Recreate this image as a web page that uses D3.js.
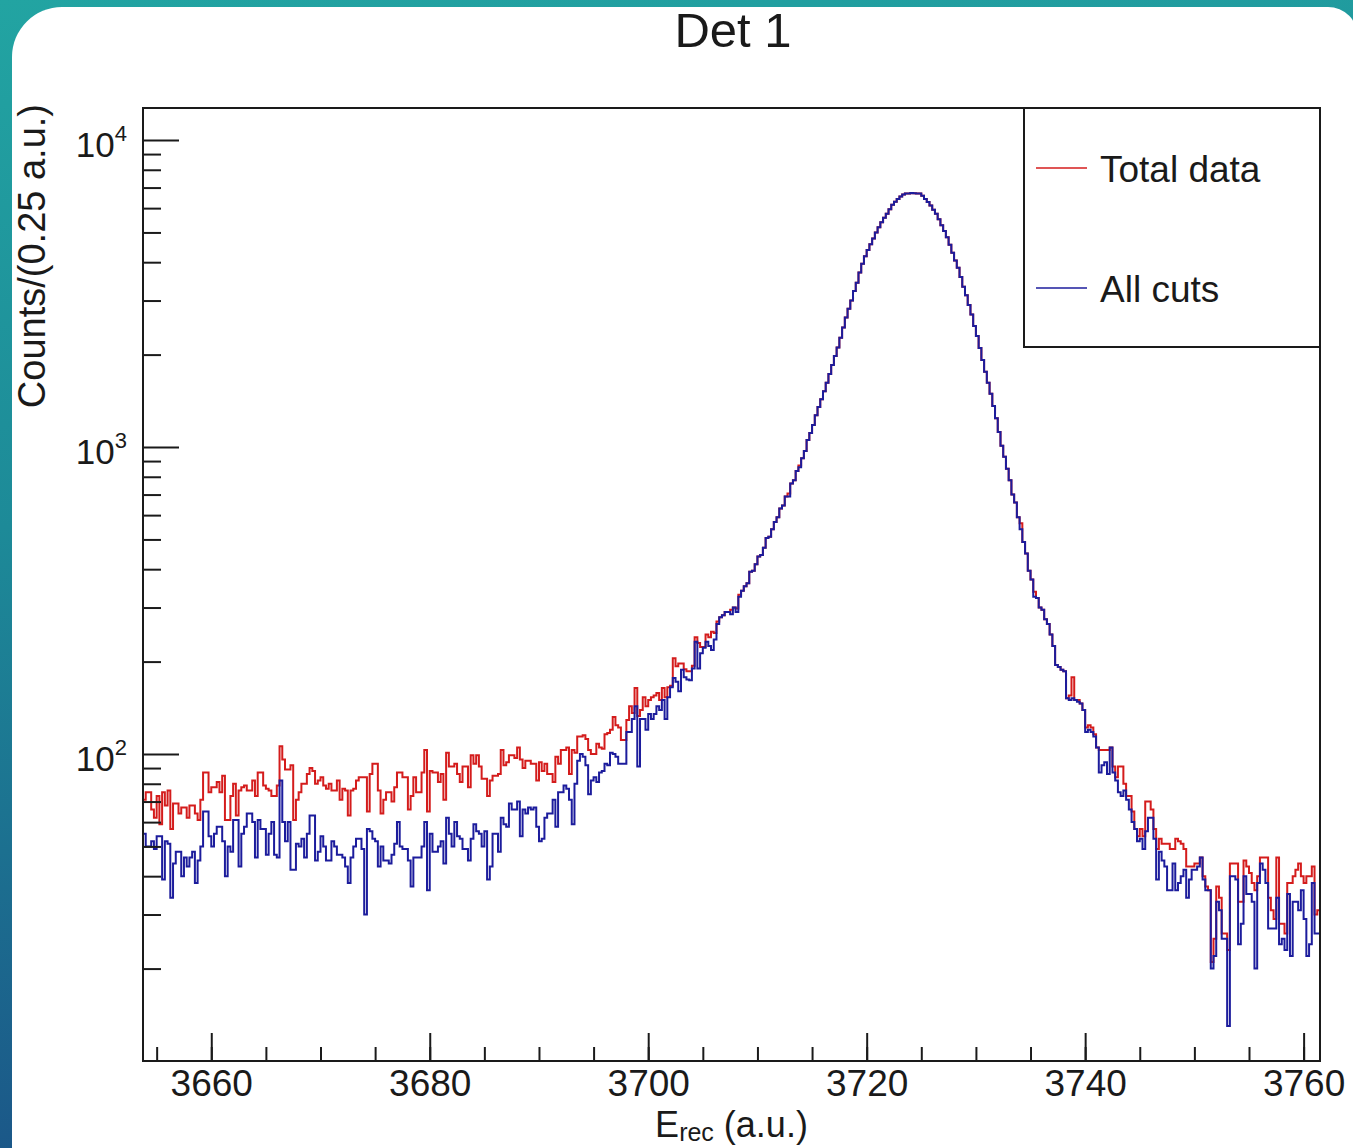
<!DOCTYPE html>
<html>
<head>
<meta charset="utf-8">
<script src="https://cdn.jsdelivr.net/npm/d3@7"></script>
<style>
  html, body { margin: 0; padding: 0; background: #ffffff; overflow: hidden; }
  svg { display: block; }
</style>
</head>
<body>
<svg id="chart" width="1353" height="1148"></svg>
<script>
// ---- histogram binning ----
const binStart = 3653.75;   // lower edge of the first bin (a.u.)
const binWidth = 0.25;      // bin width (a.u.)

// ---- counts per 0.25 a.u. bin, "Total data" ----
const totalData = [
  71,75,75,66,62,73,59,75,68,76,57,69,69,64,67,67,62,68,68,64,
  61,71,87,87,75,78,78,81,75,85,61,61,73,80,63,76,78,79,76,76,
  82,73,87,87,79,77,76,73,73,79,106,96,89,89,92,61,71,75,80,80,
  86,90,88,80,82,84,79,77,80,76,76,82,71,77,76,63,76,77,82,84,
  84,84,65,86,93,93,76,64,71,75,75,70,78,87,87,84,84,66,73,84,
  75,75,87,103,65,88,87,87,81,86,71,101,91,91,93,86,81,91,91,78,
  99,93,99,91,83,83,73,82,85,85,86,103,92,94,99,99,97,105,96,90,
  95,95,93,93,82,94,88,93,86,86,81,98,93,103,103,105,86,103,101,114,
  114,115,112,103,100,100,108,105,104,116,117,120,132,124,122,111,111,129,143,136,
  164,133,139,153,143,150,153,155,158,150,164,153,165,167,205,193,197,197,189,186,
  186,194,240,230,223,223,245,240,250,248,270,279,283,290,290,295,300,298,330,340,
  352,360,392,395,415,440,445,470,505,510,540,570,590,630,645,690,705,760,780,835,
  870,920,970,1055,1110,1180,1270,1350,1430,1520,1620,1730,1850,1980,2110,2270,2450,2640,2820,3000,
  3220,3430,3700,3950,4180,4380,4580,4780,5000,5200,5400,5580,5750,5950,6150,6300,6430,6550,6640,6700,
  6700,6720,6710,6700,6690,6580,6420,6280,6120,5930,5750,5520,5280,5050,4820,4560,4290,4050,3840,3580,
  3330,3120,2900,2700,2480,2300,2100,1920,1760,1620,1490,1360,1240,1120,1010,930,850,780,700,660,
  590,565,490,450,395,370,338,322,300,295,275,265,245,225,195,192,188,186,152,155,
  178,150,150,146,139,122,124,122,116,105,103,103,103,103,105,91,84,91,91,80,
  73,73,65,57,54,57,54,70,70,66,57,49,53,51,51,51,49,49,53,52,
  51,49,43,43,43,44,44,46,40,37,36,21,25,37,34,26,26,23,44,44,
  44,33,33,45,43,41,38,36,40,46,46,46,34,31,29,46,28,28,26,38,
  38,40,42,44,40,38,40,40,43,30,31
];

// ---- counts per 0.25 a.u. bin, "All cuts" ----
const allCuts = [
  55,50,50,52,49,54,54,39,52,51,34,44,48,48,40,46,43,46,48,38,
  45,50,65,65,54,50,55,58,58,52,40,50,48,61,61,43,55,58,64,64,
  60,46,61,57,57,47,55,60,47,46,82,60,52,60,42,42,51,50,53,46,
  55,63,63,45,48,54,50,45,45,52,50,47,47,46,43,38,46,50,53,53,
  49,30,57,56,53,52,43,50,45,45,44,47,51,60,50,49,49,45,37,46,
  46,46,50,60,36,55,48,48,50,52,44,62,55,50,60,54,53,49,49,45,
  53,59,56,55,50,56,39,43,55,55,48,62,59,58,69,66,66,70,54,66,
  64,67,66,67,58,52,53,62,64,64,71,58,75,75,79,77,71,59,80,95,
  100,98,92,74,82,84,81,87,88,93,92,101,100,98,93,93,93,118,118,130,
  143,91,130,130,120,135,130,135,143,139,150,130,153,165,177,172,160,188,178,175,
  174,190,232,190,213,222,232,225,218,236,265,279,283,290,290,285,300,290,325,340,
  352,360,392,395,415,440,445,470,505,510,540,570,590,630,645,690,690,760,780,835,
  860,920,970,1055,1110,1180,1270,1350,1430,1520,1620,1730,1850,1980,2110,2270,2450,2640,2820,3000,
  3220,3430,3700,3950,4180,4380,4580,4780,5000,5200,5400,5580,5750,5950,6150,6300,6430,6550,6640,6700,
  6700,6720,6710,6700,6690,6580,6420,6280,6120,5930,5750,5520,5280,5050,4820,4560,4290,4050,3840,3580,
  3330,3120,2900,2700,2480,2300,2100,1920,1760,1620,1490,1360,1240,1120,1010,930,850,780,700,660,
  590,540,490,450,395,370,325,322,300,295,275,265,245,225,195,192,188,186,152,150,
  152,150,148,146,139,118,120,118,114,105,87,92,94,86,105,87,82,75,73,76,
  71,66,60,57,52,53,49,56,62,62,53,39,48,45,43,36,36,44,36,38,
  40,42,34,39,42,42,43,46,39,36,36,20,22,33,31,25,25,13,40,40,
  39,24,28,40,35,35,33,20,38,44,42,38,27,27,27,34,24,25,23,35,
  22,33,33,31,36,29,22,24,38,26,26
];

// ---- axis ticks and labels ----
const xMajorTicks = [3660, 3680, 3700, 3720, 3740, 3760];
const xMinorStep = 5;
const yDecades = [100, 1000, 10000];
const yExponents = ["2", "3", "4"];
const seriesNames = ["Total data", "All cuts"];
const titleText = "Det 1";
const yTitleText = "Counts/(0.25 a.u.)";

// ---- layout ----
const W = 1353, H = 1148;
const plot = { left: 143, right: 1320, top: 108, bottom: 1061 };
const FONT = "'Liberation Sans', Arial, Helvetica, sans-serif";
const RED = "#d41c1c", BLUE = "#1c1c9c", INK = "#1a1a1a";

const svg = d3.select("#chart");
const defs = svg.append("defs");

// slide backdrop: teal-to-blue border with a white rounded panel
const bg = defs.append("linearGradient").attr("id", "bgGrad")
  .attr("x1", 0).attr("y1", 0).attr("x2", 0.15).attr("y2", 1);
bg.append("stop").attr("offset", "0%").attr("stop-color", "#22a4a2");
bg.append("stop").attr("offset", "45%").attr("stop-color", "#1d8a98");
bg.append("stop").attr("offset", "100%").attr("stop-color", "#1b5688");
svg.append("rect").attr("width", W).attr("height", H).attr("fill", "url(#bgGrad)");
svg.append("path")
  .attr("d", "M62,7 H1328 A30,30 0 0 1 1358,37 V1160 H12 V57 A50,50 0 0 1 62,7 Z")
  .attr("fill", "#ffffff");

defs.append("clipPath").attr("id", "plotClip")
  .append("rect")
  .attr("x", plot.left).attr("y", plot.top)
  .attr("width", plot.right - plot.left).attr("height", plot.bottom - plot.top);

// ---- scales ----
const x = d3.scaleLinear()
  .domain([binStart, binStart + binWidth * totalData.length])
  .range([plot.left, plot.right]);
const y = d3.scaleLog()
  .domain([10, 12715])
  .range([plot.bottom, plot.top]);

// ---- histograms drawn as step outlines ----
function stepPoints(values) {
  const pts = values.map((v, i) => [binStart + i * binWidth, v]);
  pts.push([binStart + values.length * binWidth, values[values.length - 1]]);
  return pts;
}
const histLine = d3.line()
  .x(d => x(d[0]))
  .y(d => y(d[1]))
  .curve(d3.curveStepAfter);

const histG = svg.append("g").attr("clip-path", "url(#plotClip)");
histG.append("path").datum(stepPoints(totalData))
  .attr("d", histLine).attr("fill", "none")
  .attr("stroke", RED).attr("stroke-width", 2).attr("stroke-linejoin", "miter");
histG.append("path").datum(stepPoints(allCuts))
  .attr("d", histLine).attr("fill", "none")
  .attr("stroke", BLUE).attr("stroke-width", 2).attr("stroke-linejoin", "miter");

// ---- x axis (ticks point into the frame) ----
const xMinor = d3.range(3655, 3761, xMinorStep);
svg.append("g")
  .attr("transform", `translate(0,${plot.bottom})`)
  .call(d3.axisBottom(x).tickValues(xMinor).tickSize(-14).tickFormat(""))
  .call(g => g.select(".domain").remove());
const xAxisG = svg.append("g")
  .attr("transform", `translate(0,${plot.bottom})`)
  .call(d3.axisBottom(x).tickValues(xMajorTicks).tickSize(-28).tickPadding(9).tickFormat(d3.format("d")))
  .call(g => g.select(".domain").remove());
xAxisG.selectAll("text")
  .attr("font-family", FONT).attr("font-size", 37).attr("fill", INK);

// ---- y axis (log, ticks point into the frame) ----
const yMinor = [];
[10, 100, 1000].forEach(dec => { for (let k = 2; k <= 9; k++) yMinor.push(k * dec); });
svg.append("g")
  .attr("transform", `translate(${plot.left},0)`)
  .call(d3.axisLeft(y).tickValues(yMinor).tickSize(-18).tickFormat(""))
  .call(g => g.select(".domain").remove());
const yAxisG = svg.append("g")
  .attr("transform", `translate(${plot.left},0)`)
  .call(d3.axisLeft(y).tickValues(yDecades).tickSize(-36).tickPadding(16).tickFormat(""))
  .call(g => g.select(".domain").remove());
yAxisG.selectAll(".tick text").each(function (d, i) {
  const t = d3.select(this)
    .attr("font-family", FONT).attr("font-size", 35).attr("fill", INK)
    .attr("text-anchor", "end").attr("dy", "0.48em");
  t.append("tspan").text("10");
  t.append("tspan").attr("font-size", 22).attr("dy", -16).text(yExponents[i]);
});
svg.selectAll(".tick line").attr("stroke", INK).attr("stroke-width", 2);

// ---- frame ----
svg.append("rect")
  .attr("x", plot.left).attr("y", plot.top)
  .attr("width", plot.right - plot.left).attr("height", plot.bottom - plot.top)
  .attr("fill", "none").attr("stroke", INK).attr("stroke-width", 2);

// ---- titles ----
svg.append("text")
  .attr("x", 733).attr("y", 47).attr("text-anchor", "middle")
  .attr("font-family", FONT).attr("font-size", 49).attr("fill", INK)
  .text(titleText);

const xTitle = svg.append("text")
  .attr("x", (plot.left + plot.right) / 2).attr("y", 1137).attr("text-anchor", "middle")
  .attr("font-family", FONT).attr("font-size", 36).attr("fill", INK);
xTitle.append("tspan").text("E");
xTitle.append("tspan").attr("font-size", 25).attr("dy", 4).text("rec");
xTitle.append("tspan").attr("dy", -4).text(" (a.u.)");

svg.append("text")
  .attr("transform", "translate(45,104) rotate(-90)")
  .attr("text-anchor", "end")
  .attr("font-family", FONT).attr("font-size", 38).attr("fill", INK)
  .text(yTitleText);

// ---- legend ----
const legend = svg.append("g");
legend.append("rect")
  .attr("x", 1024).attr("y", plot.top)
  .attr("width", plot.right - 1024).attr("height", 347 - plot.top)
  .attr("fill", "#ffffff").attr("stroke", INK).attr("stroke-width", 2);
const legendRows = [
  { name: seriesNames[0], color: RED, y: 168 },
  { name: seriesNames[1], color: BLUE, y: 288 }
];
legendRows.forEach(r => {
  legend.append("line")
    .attr("x1", 1036).attr("x2", 1087).attr("y1", r.y).attr("y2", r.y)
    .attr("stroke", r.color).attr("stroke-width", 1.5);
  legend.append("text")
    .attr("x", 1100).attr("y", r.y + 14)
    .attr("font-family", FONT).attr("font-size", 37).attr("fill", INK)
    .text(r.name);
});
</script>
</body>
</html>
